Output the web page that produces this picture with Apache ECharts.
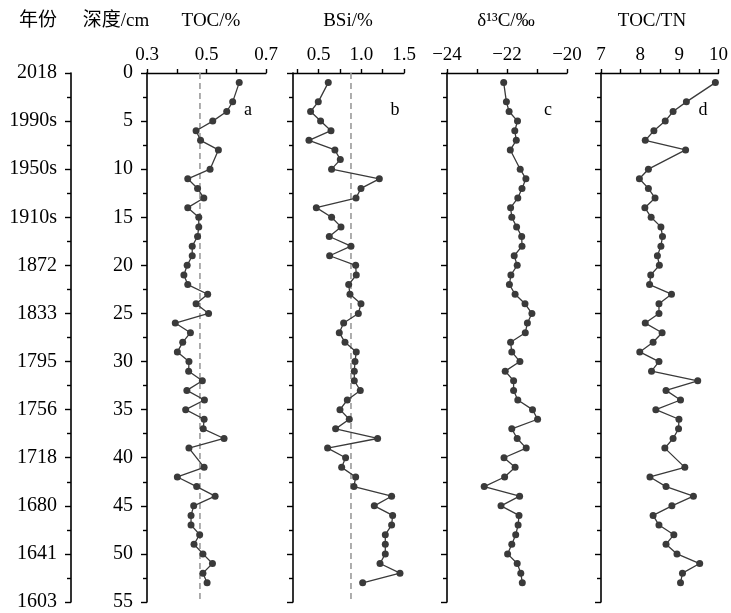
<!DOCTYPE html>
<html>
<head>
<meta charset="utf-8">
<script src="https://cdn.jsdelivr.net/npm/echarts@6/dist/echarts.min.js"></script>
<style>html,body{margin:0;padding:0;background:#fff;}#c{width:731px;height:613px;}</style>
</head>
<body>
<div id="c"></div>
<script>
// ---- data ----
const yearLabels = ['2018','1990s','1950s','1910s','1872','1833','1795','1756','1718','1680','1641','1603'];

const tocDepth = [1,3,4,5,6,7,8,10,11,12,13,14,15,16,17,18,19,20,21,22,23,24,25,26,27,28,29,30,31,32,33,34,35,36,37,38,39,41,42,43,44,45,46,47,48,49,50,51,52,53];
const tocValues = [0.610,0.588,0.568,0.521,0.465,0.480,0.540,0.512,0.437,0.470,0.491,0.437,0.474,0.474,0.470,0.452,0.452,0.435,0.424,0.437,0.504,0.465,0.507,0.395,0.446,0.420,0.402,0.441,0.440,0.486,0.434,0.493,0.430,0.492,0.489,0.559,0.441,0.492,0.402,0.467,0.529,0.457,0.448,0.448,0.477,0.458,0.488,0.520,0.488,0.502];
const tocMean = 0.478;

const bsiDepth = [1,3,4,5,6,7,8,9,10,11,12,13,14,15,16,17,18,19,20,21,22,23,24,25,26,27,28,29,30,31,32,33,34,35,36,37,38,39,40,41,42,43,44,45,46,47,48,49,50,51,52,53];
const bsiValues = [0.613,0.496,0.406,0.523,0.645,0.387,0.691,0.754,0.652,1.211,0.996,0.938,0.473,0.652,0.762,0.625,0.879,0.629,0.934,0.941,0.852,0.867,0.996,0.965,0.793,0.742,0.809,0.941,0.926,0.918,0.918,0.988,0.836,0.750,0.859,0.699,1.191,0.605,0.816,0.770,0.934,0.914,1.355,1.152,1.367,1.355,1.281,1.281,1.281,1.219,1.453,1.016];
const bsiMean = 0.879;

const d13cDepth = [1,3,4,5,6,7,8,10,11,12,13,14,15,16,17,18,19,20,21,22,23,24,25,26,27,28,29,30,31,32,33,34,35,36,37,38,39,40,41,42,43,44,45,46,47,48,49,50,51,52,53];
const d13cValues = [-22.11,-22.02,-21.93,-21.65,-21.74,-21.69,-21.89,-21.56,-21.37,-21.50,-21.64,-21.88,-21.84,-21.68,-21.51,-21.50,-21.76,-21.66,-21.87,-21.92,-21.73,-21.40,-21.17,-21.32,-21.39,-21.88,-21.84,-21.57,-22.06,-21.78,-21.78,-21.64,-21.15,-20.98,-21.84,-21.66,-21.36,-22.10,-21.73,-22.08,-22.76,-21.58,-22.20,-21.60,-21.63,-21.71,-21.84,-21.98,-21.66,-21.54,-21.49];

const ctnDepth = tocDepth;
const ctnValues = [9.92,9.18,8.84,8.64,8.35,8.13,9.16,8.21,7.98,8.21,8.38,8.12,8.28,8.53,8.57,8.53,8.44,8.49,8.27,8.24,8.80,8.48,8.48,8.13,8.56,8.33,7.99,8.48,8.29,9.47,8.66,9.03,8.40,8.99,8.98,8.84,8.63,9.14,8.25,8.66,9.36,8.81,8.33,8.48,8.86,8.66,8.94,9.52,9.08,9.03];

// x-axis ticks / labels
const tocTicks = [0.3,0.4,0.5,0.6,0.7], tocLabels = [0.3,0.5,0.7];
const bsiTicks = [0.25,0.5,0.75,1.0,1.25,1.5], bsiLabels = [0.5,1.0,1.5];
const d13cTicks = [-24,-23,-22,-21,-20], d13cLabels = [-24,-22,-20];
const ctnTicks = [7,7.5,8,8.5,9,9.5,10], ctnLabels = [7,8,9,10];

// ---- chart ----
const FONT = "'Liberation Serif','Times New Roman',serif";
const black = '#000';
const TOP = 73, H = 529;

function pairs(vals, depths){ return vals.map((v,i)=>[v, depths[i]]); }

const grids = [
  {left:71, top:TOP, width:1, height:H},
  {left:147, top:TOP, width:119, height:H},
  {left:293, top:TOP, width:111, height:H},
  {left:447, top:TOP, width:120, height:H},
  {left:601, top:TOP, width:120, height:H}
];

function yAx(gi, labelMode){
  return {
    type:'value', gridIndex:gi, inverse:true, min:0, max:55, interval:5,
    axisLine:{show:true, onZero:false, lineStyle:{color:black, width:1.6}},
    axisTick:{show:true, length:6, lineStyle:{color:black, width:1.4}},
    minorTick:{show:true, splitNumber:2, length:4, lineStyle:{color:black, width:1.4}},
    splitLine:{show:false}, minorSplitLine:{show:false},
    axisLabel:{
      show: !!labelMode, margin:14, color:black, fontFamily:FONT, fontSize:20,
      formatter: labelMode === 'year' ? (v => yearLabels[Math.round(v/5)]) : (v => String(v))
    }
  };
}
function xAx(gi, min, max, ticks, labels, fmt){
  return {
    type:'value', gridIndex:gi, position:'top', min:min, max:max,
    axisLine:{show:true, onZero:false, lineStyle:{color:black, width:1.4}},
    axisTick:{show:true, length:4, customValues:ticks, lineStyle:{color:black, width:1.4}},
    axisLabel:{show:true, customValues:labels, margin:8, color:black, fontFamily:FONT, fontSize:19, formatter:fmt},
    splitLine:{show:false}
  };
}

const xAxes = [
  {type:'value', gridIndex:0, show:false, min:0, max:1},
  xAx(1, 0.3, 0.7, tocTicks, tocLabels, v => v.toFixed(1)),
  xAx(2, 0.2, 1.5, bsiTicks, bsiLabels, v => v.toFixed(1)),
  xAx(3, -24, -20, d13cTicks, d13cLabels, v => (v<0?'\u2212':'') + Math.abs(v)),
  xAx(4, 7, 10, ctnTicks, ctnLabels, v => String(v))
];
const yAxes = [yAx(0,'year'), yAx(1,'depth'), yAx(2,null), yAx(3,null), yAx(4,null)];

const dotColor = '#3a3a3a';
function lineSeries(i, vals, depths){
  return {
    type:'line', xAxisIndex:i, yAxisIndex:i, data:pairs(vals, depths), z:5,
    symbol:'circle', symbolSize:7, showSymbol:true,
    itemStyle:{color:dotColor, borderWidth:0},
    lineStyle:{color:dotColor, width:1.3},
    silent:true, animation:false
  };
}
function meanLine(i, mean){
  return {
    type:'line', xAxisIndex:i, yAxisIndex:i, z:1, data:[[mean,0],[mean,55]],
    symbol:'none', silent:true, animation:false,
    lineStyle:{type:[6,4], color:'#999', width:1.6}
  };
}

function centered(cx, y, text, size){
  return {type:'text', x:cx, y:y, style:{text:text, fill:black, fontFamily:"'Liberation Serif','Noto Sans CJK SC',serif", fontSize:size, align:'center', verticalAlign:'middle'}};
}

const option = {
  animation:false,
  backgroundColor:'#fff',
  grid: grids,
  xAxis: xAxes,
  yAxis: yAxes,
  series: [
    meanLine(1, tocMean),
    meanLine(2, bsiMean),
    lineSeries(1, tocValues, tocDepth),
    lineSeries(2, bsiValues, bsiDepth),
    lineSeries(3, d13cValues, d13cDepth),
    lineSeries(4, ctnValues, ctnDepth)
  ],
  graphic: [
    centered(38, 21, '年份', 19),
    centered(116, 21, '深度/cm', 19),
    centered(211, 21, 'TOC/%', 19),
    centered(348, 21, 'BSi/%', 19),
    centered(506, 21, 'δ¹³C/‰', 19),
    centered(652, 21, 'TOC/TN', 19),
    centered(248, 110, 'a', 18),
    centered(395, 110, 'b', 18),
    centered(548, 110, 'c', 18),
    centered(703, 110, 'd', 18)
  ]
};

const chart = echarts.init(document.getElementById('c'), null, {renderer:'canvas'});
chart.setOption(option);
</script>
</body>
</html>
